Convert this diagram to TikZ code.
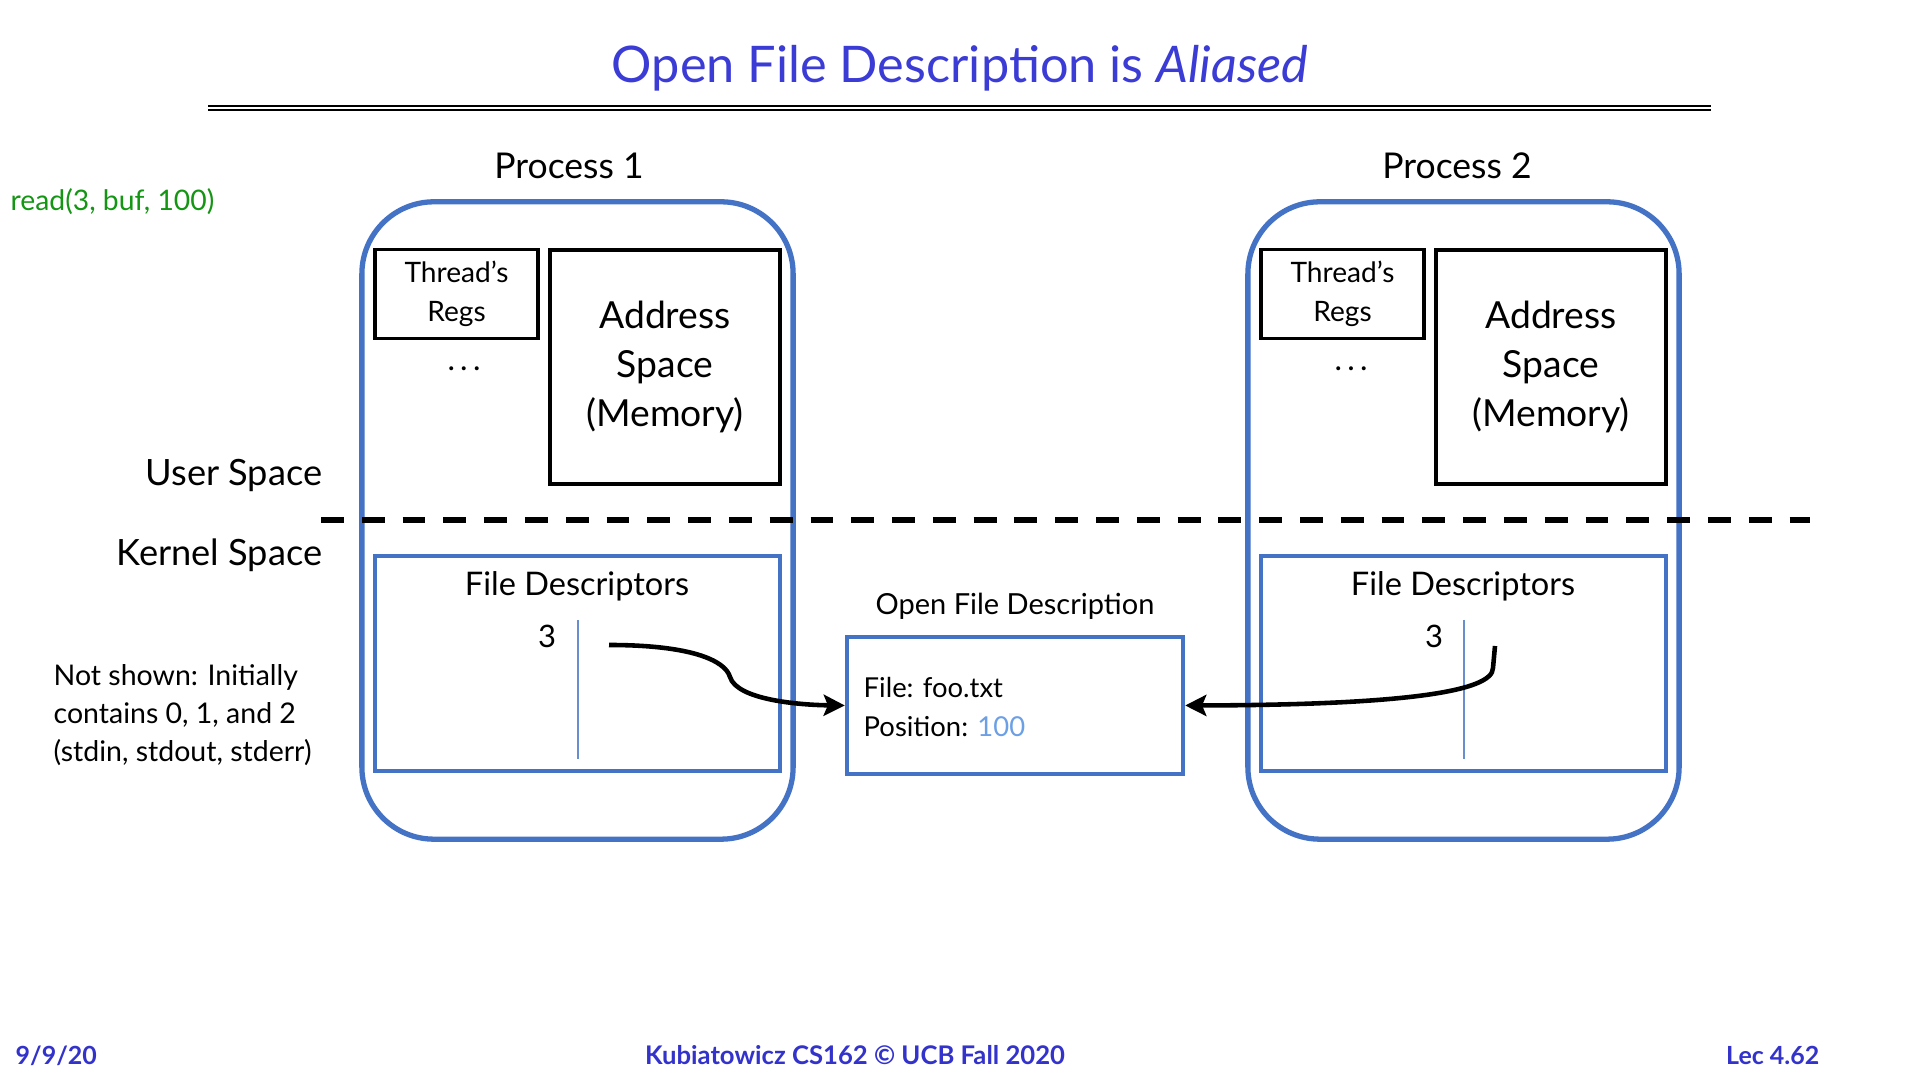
\documentclass[tikz,border=0pt]{standalone}
\usepackage{fontspec}
\setmainfont{Lato}
\usetikzlibrary{arrows.meta}
\definecolor{procblue}{RGB}{68,114,196}
\definecolor{titleblue}{RGB}{59,59,214}
\definecolor{footblue}{RGB}{51,51,204}
\definecolor{posblue}{RGB}{107,159,230}
\definecolor{cmdgreen}{RGB}{20,150,20}
\newcommand{\setfs}[2]{\fontsize{#1}{#2}\selectfont}
\begin{document}
\begin{tikzpicture}[x=0.01cm, y=-0.01cm, >={Stealth[length=6pt,width=6pt,inset=1.2pt]}]
  \tikzset{
    proc/.style={draw=procblue, line width=1.5pt, rounded corners=0.72cm, minimum width=4.31cm, minimum height=6.37cm},
    regs/.style={draw, line width=1pt, align=center, minimum width=1.63cm, minimum height=0.88cm, font=\setfs{8.0}{11.1}},
    addr/.style={draw, line width=1pt, align=center, minimum width=2.30cm, minimum height=2.34cm, font=\setfs{10.6}{13.9}},
    fdbox/.style={draw=procblue, line width=1pt, minimum width=4.05cm, minimum height=2.15cm},
    fdline/.style={draw=procblue!80, line width=0.6pt},
    ptr/.style={->, line width=1.3pt},
    lbl/.style={inner sep=0pt}
  }
  \useasboundingbox[fill=white] (0,0) rectangle (1920,1080);
  \node[lbl, anchor=base, text=titleblue, font=\setfs{14.35}{18}] (title) at (960,83) {Open File Description is \textit{Aliased}};
  \draw[line width=0.55pt] (208,106) -- (1711,106);
  \draw[line width=0.55pt] (208,110) -- (1711,110);
  \node[lbl, anchor=west, text=cmdgreen, font=\setfs{8.05}{10}] (cmd) at (10,202) {read(3, buf, 100)};

  \node[lbl, anchor=base, font=\setfs{10.1}{13}] (pl1) at (569,179) {Process 1};
  \node[lbl, anchor=base, font=\setfs{10.1}{13}] (pl2) at (1457,179) {Process 2};
  \node[proc] (p1) at (577.5,520.5) {};
  \node[proc] (p2) at (1463.5,520.5) {};

  \node[regs] (t1) at (456.5,294) {Thread’s\\Regs};
  \node[addr] (a1) at (665,367) {Address\\Space\\(Memory)};
  \node[lbl, font=\setfs{9}{11}] (d1) at (464,369) {.\,.\,.};
  \node[regs] (t2) at (1342.5,294) {Thread’s\\Regs};
  \node[addr] (a2) at (1551,367) {Address\\Space\\(Memory)};
  \node[lbl, font=\setfs{9}{11}] (d2) at (1351,369) {.\,.\,.};

  \node[fdbox] (fd1) at (577.5,663.5) {};
  \node[lbl, anchor=base, font=\setfs{9.25}{12}] (fdl1) at (577,596) {File Descriptors};
  \node[lbl, anchor=base, font=\setfs{8.8}{11}] (n1) at (547,648) {3};
  \draw[fdline] (578,620) -- (578,759);
  \node[fdbox] (fd2) at (1463.5,663.5) {};
  \node[lbl, anchor=base, font=\setfs{9.25}{12}] (fdl2) at (1463,596) {File Descriptors};
  \node[lbl, anchor=base, font=\setfs{8.8}{11}] (n2) at (1434,648) {3};
  \draw[fdline] (1464,620) -- (1464,759);

  \node[lbl, anchor=east, font=\setfs{10.3}{13}] (us) at (323,475) {User Space};
  \node[lbl, anchor=east, font=\setfs{10.3}{13}] (ks) at (323,555) {Kernel Space};
  \draw[dashed, dash pattern=on 6.5pt off 5.1pt, line width=1.9pt] (321,520) -- (1810,520);

  \node[lbl, anchor=base, font=\setfs{8.25}{11}] (ofdl) at (1015,615) {Open File Description};
  \node[draw=procblue, line width=1.2pt, minimum width=3.36cm, minimum height=1.37cm] (ofd) at (1015,705.5) {};
  \node[lbl, anchor=west, align=left, font=\setfs{7.8}{11.1}] (ofdt) at (863,707) {File: foo.txt\\Position: \textcolor{posblue}{100}};

  \node[lbl, anchor=west, align=left, font=\setfs{8.1}{10.8}] (note) at (53,715) {Not shown: Initially\\contains 0, 1, and 2\\(stdin, stdout, stderr)};

  \coordinate (s1) at (609,645);
  \coordinate (s2) at (1495,646);
  \draw[ptr] (s1) .. controls (690,645) and (725,660) .. (730,677) .. controls (737,700) and (800,705) .. (ofd.west);
  \draw[ptr] (s2) -- (1493,668) .. controls (1493,692) and (1400,705) .. (ofd.east);

  \node[lbl, anchor=base west, text=footblue, font=\setfs{7.1}{8}\bfseries] (date) at (15,1065) {9/9/20};
  \node[lbl, anchor=base, text=footblue, font=\setfs{7.3}{8}\bfseries] (foot) at (855,1065) {Kubiatowicz CS162 © UCB Fall 2020};
  \node[lbl, anchor=base east, text=footblue, font=\setfs{7.1}{8}\bfseries] (lec) at (1820,1065) {Lec 4.62};
\end{tikzpicture}
\end{document}
